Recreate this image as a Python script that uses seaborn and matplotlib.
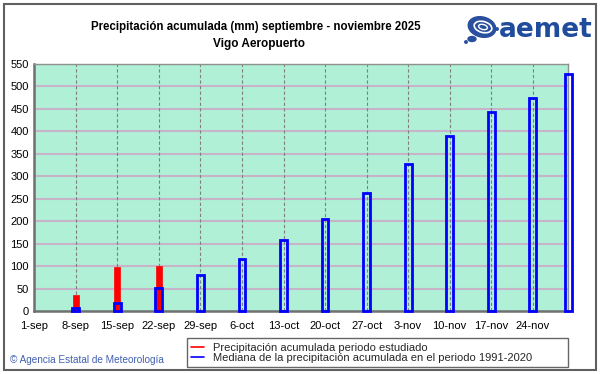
import numpy as np
import pandas as pd
import seaborn as sns
import matplotlib
matplotlib.use("Agg")
import matplotlib.pyplot as plt
from matplotlib.patches import Rectangle, Ellipse
from matplotlib.lines import Line2D

# ---- data ----
tick_days = [0, 7, 14, 21, 28, 35, 42, 49, 56, 63, 70, 77, 84]
tick_labels = ["1-sep", "8-sep", "15-sep", "22-sep", "29-sep", "6-oct", "13-oct",
               "20-oct", "27-oct", "3-nov", "10-nov", "17-nov", "24-nov"]
obs_days = [7, 14, 21]
obs_values = [35, 97, 100]
med_days = [7, 14, 21, 28, 35, 42, 49, 56, 63, 70, 77, 84, 90]
med_values = [7, 17, 52, 80, 116, 159, 205, 263, 328, 389, 444, 474, 527]
y_ticks = [0, 50, 100, 150, 200, 250, 300, 350, 400, 450, 500, 550]

title1 = "Precipitación acumulada (mm) septiembre - noviembre 2025"
title2 = "Vigo Aeropuerto"
leg_obs = "Precipitación acumulada periodo estudiado"
leg_med = "Mediana de la precipitación acumulada en el periodo 1991-2020"

sns.set_theme(style="white")
plt.rcParams["font.family"] = ["Liberation Sans", "DejaVu Sans"]

W, H = 601, 374
fig = plt.figure(figsize=(W / 100, H / 100), dpi=100)
fig.patch.set_facecolor("white")

ax = fig.add_axes([34.3 / W, 1 - 311 / H, (568.3 - 34.3) / W, (311 - 64) / H])
ax.set_facecolor("#aff0d7")

obs_df = pd.DataFrame({"day": obs_days, "mm": obs_values})
med_df = pd.DataFrame({"day": med_days, "mm": med_values})

sns.barplot(data=obs_df, x="day", y="mm", native_scale=True, width=1.0 / 7,
            color="#ff0000", linewidth=0, errorbar=None, ax=ax, zorder=3)
n_obs = len(ax.patches)
sns.barplot(data=med_df, x="day", y="mm", native_scale=True, width=1.15 / 6,
            color="#0000ff", fill=False, linewidth=2.0, errorbar=None, ax=ax, zorder=4)
for i, p in enumerate(ax.patches):
    p.set_clip_on(False)
    if i < n_obs:
        # keep red bars one day wide, centred on their day
        xc = p.get_x() + p.get_width() / 2
        p.set_width(1.0)
        p.set_x(xc - 0.5)
        p.set_facecolor("#ff0000")
        p.set_edgecolor("#ff0000")
        p.set_linewidth(0.5)
    else:
        p.set_edgecolor("#0000ff")
        p.set_facecolor("none")
        p.set_linewidth(2.0)

ax.set_xlim(0, 90)
ax.set_ylim(0, 550)
ax.set_xticks(tick_days)
ax.set_xticklabels(tick_labels)
ax.set_yticks(y_ticks)
ax.set_yticklabels([str(v) for v in y_ticks])
ax.set_xlabel("")
ax.set_ylabel("")
ax.tick_params(axis="both", length=0, labelsize=8, colors="black")
ax.tick_params(axis="x", pad=7)
ax.tick_params(axis="y", pad=4)

for v in y_ticks[1:-1]:
    ax.axhline(v, color="#c8b4c8", lw=1.5, zorder=1)
for d in tick_days[1:]:
    ax.axvline(d, color="#808080", lw=0.8, ls=(0, (3, 2)), zorder=1)

for s in ["top", "right"]:
    ax.spines[s].set_color("#909090")
    ax.spines[s].set_linewidth(1.0)
for s in ["left", "bottom"]:
    ax.spines[s].set_color("#707070")
    ax.spines[s].set_linewidth(1.8)

# titles
fig.text(256 / W, 1 - 27 / H, title1, ha="center", va="center", fontsize=8.3,
         fontweight="bold", color="black")
fig.text(259 / W, 1 - 44 / H, title2, ha="center", va="center", fontsize=8.5,
         fontweight="bold", color="black")

# logo (approximation)
lax = fig.add_axes([462 / W, 1 - 46 / H, 38 / W, 34 / H])
lax.set_xlim(0, 38)
lax.set_ylim(0, 34)
lax.axis("off")
lax.add_patch(Ellipse((20, 19), 28, 20, angle=-15, color="#2a4f9f"))
lax.add_patch(Ellipse((21, 19), 18, 11, angle=-15, fill=False, ec="white", lw=1.2))
lax.add_patch(Ellipse((21, 19), 9, 5, angle=-15, fill=False, ec="white", lw=1.0))
lax.add_patch(Ellipse((10, 7), 8, 5, color="#2a4f9f"))
lax.add_patch(Ellipse((4, 4), 2.5, 2.5, color="#2a4f9f"))
lax.add_patch(Ellipse((35, 17), 2.5, 2.5, color="#2a4f9f"))
fig.text(499 / W, 1 - 30 / H, "aemet", ha="left", va="center", fontsize=19,
         fontweight="bold", family="DejaVu Sans", color="#1f4c9d")

# copyright
fig.text(10 / W, 1 - 360 / H, "© Agencia Estatal de Meteorología", ha="left",
         va="center", fontsize=7.2, color="#4060b0")

# legend
handles = [Line2D([], [], color="#ff0000", lw=1.2),
           Line2D([], [], color="#0000ff", lw=1.2)]
leg = fig.legend(handles, [leg_obs, leg_med], loc="lower left",
                 bbox_to_anchor=(187 / W, 1 - 367 / H, (568 - 187) / W, 30 / H),
                 mode="expand", fontsize=8, frameon=True, fancybox=False,
                 handlelength=1.1, handletextpad=0.8, borderpad=0.4,
                 labelspacing=0.0, borderaxespad=0)
leg.get_frame().set_edgecolor("#404040")
leg.get_frame().set_linewidth(1.0)

# outer border
fig.patches.append(Rectangle((4 / W, 4 / H), (596 - 4) / W, (370 - 4) / H,
                             transform=fig.transFigure, fill=False,
                             ec="#606060", lw=1.5, figure=fig))

fig.savefig("out.png", dpi=100)
